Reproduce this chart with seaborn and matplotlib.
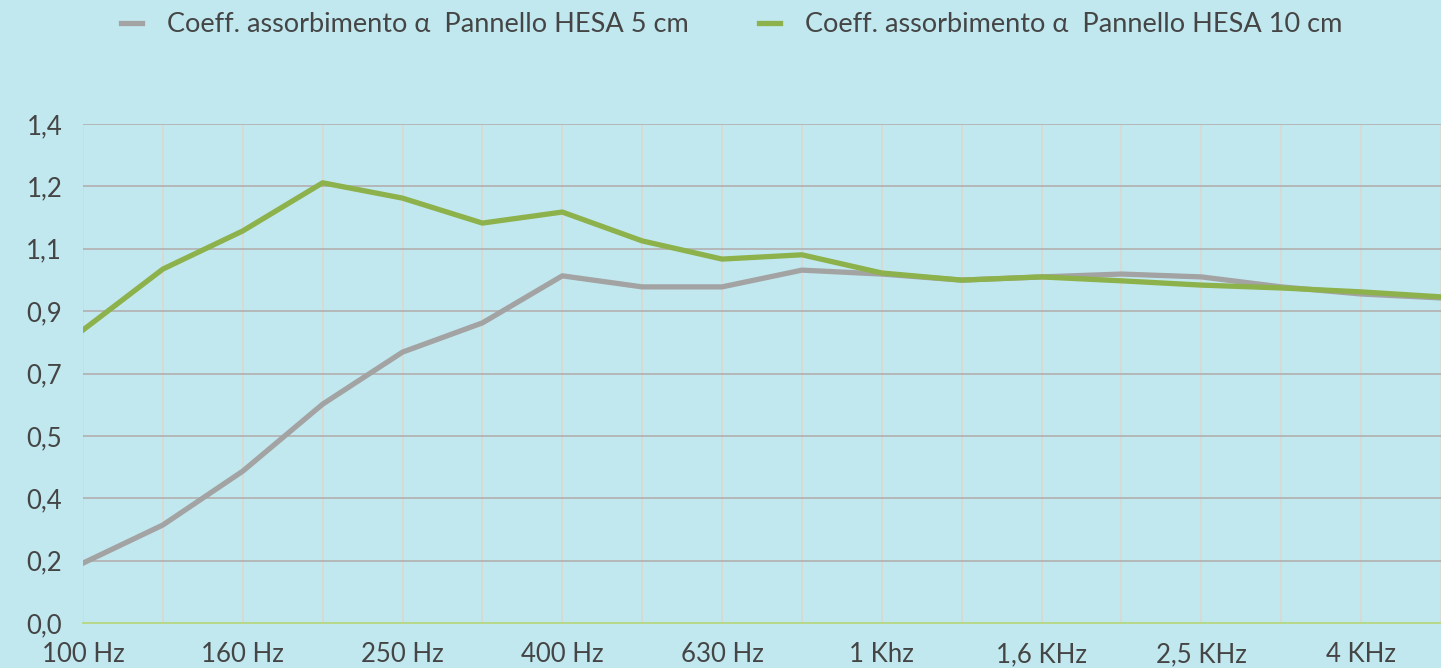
import numpy as np
import pandas as pd
import matplotlib
matplotlib.use('Agg')
import matplotlib.pyplot as plt
import seaborn as sns

# frequency bands (1/3 octave)
freqs = ['100 Hz', '125 Hz', '160 Hz', '200 Hz', '250 Hz', '315 Hz', '400 Hz', '500 Hz',
         '630 Hz', '800 Hz', '1 Khz', '1,25 KHz', '1,6 KHz', '2 KHz', '2,5 KHz',
         '3,15 KHz', '4 KHz', '5 KHz']
shown = ['100 Hz', '160 Hz', '250 Hz', '400 Hz', '630 Hz', '1 Khz', '1,6 KHz', '2,5 KHz', '4 KHz']

hesa_5cm = [0.168, 0.275, 0.426, 0.614, 0.760, 0.842, 0.974, 0.943, 0.943,
            0.990, 0.979, 0.962, 0.971, 0.979, 0.971, 0.943, 0.923, 0.912]
hesa_10cm = [0.822, 0.993, 1.100, 1.235, 1.192, 1.122, 1.153, 1.072, 1.021,
             1.033, 0.982, 0.962, 0.971, 0.960, 0.948, 0.940, 0.929, 0.915]

y_ticks = [0, 0.175, 0.35, 0.525, 0.7, 0.875, 1.05, 1.225, 1.4]
y_labels = ['0,0', '0,2', '0,4', '0,5', '0,7', '0,9', '1,1', '1,2', '1,4']

lab5 = 'Coeff. assorbimento \u03b1  Pannello HESA 5 cm'
lab10 = 'Coeff. assorbimento \u03b1  Pannello HESA 10 cm'

df = pd.DataFrame({
    'pos': list(range(len(freqs))) * 2,
    'coeff': hesa_5cm + hesa_10cm,
    'serie': [lab5] * len(freqs) + [lab10] * len(freqs),
})

bg = '#C1E8EF'
txt = '#454545'
plt.rcParams['font.family'] = ['Lato', 'DejaVu Sans']

fig = plt.figure(figsize=(14.41, 6.68), dpi=100, facecolor=bg)
ax = fig.add_axes([83 / 1441, 1 - 623 / 668, 1 - 83 / 1441, (623 - 124) / 668])
ax.set_facecolor(bg)

sns.lineplot(data=df, x='pos', y='coeff', hue='serie', sort=False,
             palette={lab5: '#A3A3A3', lab10: '#8DB14B'},
             linewidth=3.8, ax=ax, legend=False, zorder=3)

ax.set_xlim(0, (1441 - 83) / 80)
ax.set_ylim(0, 1.4)
ax.set_xticks(range(len(freqs)))
ax.set_xticklabels([f if f in shown else '' for f in freqs])
ax.set_yticks(y_ticks)
ax.set_yticklabels(y_labels)
ax.set_xlabel('')
ax.set_ylabel('')

ax.grid(axis='y', color='#B3B3B3', linewidth=1.3, zorder=1)
ax.grid(axis='x', color='#DCD6CE', linewidth=1.1, zorder=1)
ax.set_axisbelow(True)
for s in ['top', 'right', 'left']:
    ax.spines[s].set_visible(False)
ax.spines['bottom'].set_color('#B8D88A')
ax.spines['bottom'].set_linewidth(1.4)
ax.tick_params(axis='both', length=0, labelsize=18.5, colors=txt)
ax.tick_params(axis='x', pad=14)
ax.tick_params(axis='y', pad=15)

handles = [plt.Line2D([], [], color='#A3A3A3', linewidth=3.8),
           plt.Line2D([], [], color='#8DB14B', linewidth=3.8)]
fig.legend(handles, [lab5, lab10], loc='center', ncol=2,
           bbox_to_anchor=(0.508, 1 - 25 / 668), frameon=False,
           fontsize=19.5, labelcolor=txt, handlelength=0.75, handletextpad=0.95,
           columnspacing=2.6)

fig.savefig('out.png', dpi=100, facecolor=bg)
